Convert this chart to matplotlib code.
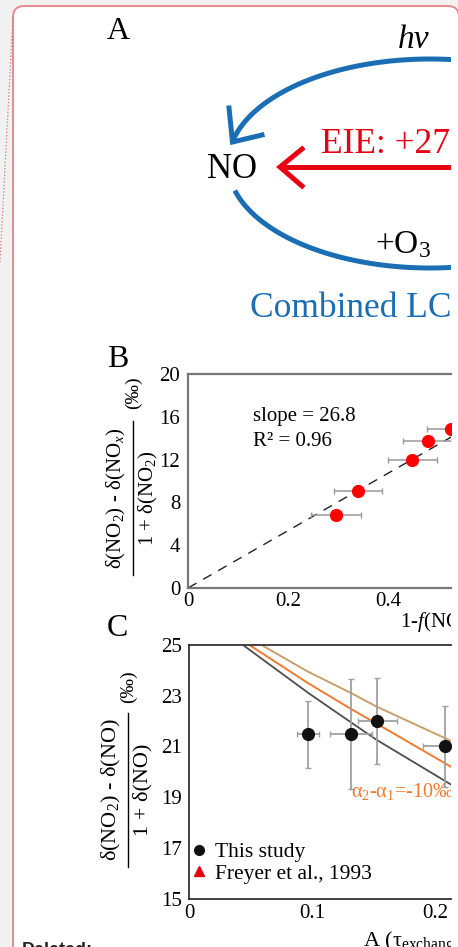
import numpy as np
import matplotlib
matplotlib.use('Agg')
import matplotlib.pyplot as plt
from matplotlib.patches import FancyBboxPatch
from matplotlib.lines import Line2D

plt.rcParams['font.family'] = ['Liberation Serif', 'DejaVu Serif']
plt.rcParams['mathtext.fontset'] = 'custom'
plt.rcParams['mathtext.rm'] = 'Liberation Serif'
plt.rcParams['mathtext.it'] = 'Liberation Serif:italic'
plt.rcParams['mathtext.bf'] = 'Liberation Serif:bold'

# panel B: isotope fractionation vs 1-f
b_x = [0.297, 0.340, 0.449, 0.480, 0.526]
b_y = [6.8, 9.1, 12.0, 13.7, 14.9]
b_xerr = [0.050, 0.049, 0.049, 0.049, 0.047]
b_yerr = [0.4, 0.4, 0.4, 0.4, 0.3]
b_slope = 26.8
b_r2 = 0.96
b_yticks = [0, 4, 8, 12, 16, 20]
b_xticks = [0, 0.2, 0.4]

# panel C: this study points + model curves
c_x = [0.097, 0.132, 0.153, 0.208]
c_y = [21.48, 21.49, 22.0, 21.0]
c_xerr = [0.009, 0.017, 0.016, 0.018]
c_yerr = [1.33, 2.17, 1.70, 1.60]
gray_x = [0.0450, 0.0967, 0.1320, 0.1526, 0.2130]
gray_y = [24.96, 23.12, 21.94, 21.26, 19.50]
orange_x = [0.0504, 0.0967, 0.1320, 0.1526, 0.2130]
orange_y = [24.96, 23.50, 22.47, 21.90, 20.20]
tan_x = [0.0604, 0.0967, 0.1320, 0.1526, 0.2130]
tan_y = [24.96, 23.95, 23.10, 22.57, 21.22]
c_yticks = [15, 17, 19, 21, 23, 25]
c_xticks = [0, 0.1, 0.2]

W, H = 458, 947
BLUE = '#1b6db4'
RED = '#e60012'


def px_rect(left, top, right, bottom):
    return [left / W, 1 - bottom / H, (right - left) / W, (bottom - top) / H]


fig = plt.figure(figsize=(W / 100, H / 100), dpi=100)
fig.patch.set_facecolor('#f1f1f1')

# page background: comment box
bg = fig.add_axes([0, 0, 1, 1], zorder=0)
bg.set_xlim(0, W)
bg.set_ylim(H, 0)
bg.axis('off')
bg.add_patch(FancyBboxPatch((13, 6), 446, 1100, boxstyle='round,pad=0,rounding_size=11',
                            fc='white', ec='#e68a90', lw=1.4))
bg.plot([13, 0], [16, 262], ls=':', color='#d8707a', lw=0.9)
bg.text(22, 954.6, 'Deleted:', family='Liberation Sans', weight='bold', fontsize=13,
        color='#222222', va='baseline')

# content layer (clipped at right side)
ca = fig.add_axes(px_rect(0, 0, 451, H), zorder=1)
ca.set_xlim(0, 451)
ca.set_ylim(H, 0)
ca.axis('off')
ca.patch.set_alpha(0)

# ---- panel A diagram
cx, cy, ea, eb = 430, 163.5, 202, 104.5
t1 = np.radians(np.linspace(168.7, 60, 100))
ca.plot(cx + ea * np.cos(t1), cy - eb * np.sin(t1), color=BLUE, lw=3.6, solid_capstyle='butt')
t2 = np.radians(np.linspace(195, 300, 100))
ca.plot(cx + ea * np.cos(t2), cy - eb * np.sin(t2), color=BLUE, lw=3.6, solid_capstyle='butt')
ca.plot([229, 232.5, 262], [108, 142, 135], color=BLUE, lw=3.6, solid_joinstyle='miter')
ca.plot([281, 460], [167, 167], color=RED, lw=3.6, solid_capstyle='butt')
ca.plot([302, 280, 302], [149, 167, 186], color=RED, lw=3.6, solid_joinstyle='miter')

ca.text(107, 39, 'A', fontsize=23, va='baseline', clip_on=True)
ca.text(398, 48, 'hv', fontsize=24, style='italic', va='baseline', clip_on=True)
ca.text(232, 178, 'NO', fontsize=25, ha='center', va='baseline', clip_on=True)
ca.text(321, 153, 'EIE: +27', fontsize=25.5, color=RED, va='baseline', clip_on=True)
ca.text(375, 253, r'+O$_3$', fontsize=24, va='baseline', clip_on=True)
ca.text(250, 317, 'Combined LCE', fontsize=25.5, color=BLUE, va='baseline', clip_on=True)


def frac_label(x_num, x_bar, x_den, y0, y1, num, den, size):
    yc = (y0 + y1) / 2
    ca.text(x_num, yc, num, rotation=90, ha='center', va='center', fontsize=size, clip_on=True)
    ca.plot([x_bar, x_bar], [y0, y1], color='black', lw=1.0)
    ca.text(x_den, yc, den, rotation=90, ha='center', va='center', fontsize=size, clip_on=True)


# ---- panel B
ca.text(107, 366.5, 'B', fontsize=23, va='baseline', clip_on=True)
axb = fig.add_axes(px_rect(188, 374, 451, 588), zorder=2)
axb.patch.set_alpha(0)
xs = np.array([0, 0.6])
axb.plot(xs, b_slope * xs, color='#222222', lw=1.0, dashes=(7, 5.5))
axb.errorbar(b_x, b_y, xerr=b_xerr, yerr=b_yerr, fmt='o', color='#ff0000', ms=8.5,
             mec='#ff0000', ecolor='#999999', elinewidth=1.1, capsize=2.5, capthick=1.0)
axb.set_xlim(0, 0.526)
axb.set_ylim(0, 20)
axb.set_xticks(b_xticks, ['0', '0.2', '0.4'])
axb.set_yticks(b_yticks)
axb.tick_params(length=0, labelsize=15)
axb.tick_params(axis='y', pad=5.5)
axb.tick_params(axis='x', pad=3)
for s in ['left', 'top', 'bottom']:
    axb.spines[s].set_color('#777777')
    axb.spines[s].set_linewidth(1.6)
axb.spines['right'].set_visible(False)
axb.text(0.13, 16, 'slope = %.1f' % b_slope, fontsize=15, va='center')
axb.text(0.13, 13.7, 'R² = %.2f' % b_r2, fontsize=15, va='center')

frac_label(116, 133, 148, 421, 575, r'δ(NO$_2$) - δ(NO$_x$)', r'1 + δ(NO$_2$)', 15)
ca.text(133, 393, '(‰)', rotation=90, ha='center', va='center', fontsize=14, clip_on=True)
ca.text(400, 622, r'1-$\mathit{f}$(NO$_2$)', fontsize=15, va='center', clip_on=True)

# ---- panel C
ca.text(107, 636, 'C', fontsize=23, va='baseline', clip_on=True)
axc = fig.add_axes(px_rect(189, 645, 451, 898.7), zorder=2)
axc.patch.set_alpha(0)
axc.plot(gray_x, gray_y, color='#4d4d4d', lw=1.3)
axc.plot(orange_x, orange_y, color='#f07a30', lw=1.4)
axc.plot(tan_x, tan_y, color='#c9a06a', lw=1.4)
axc.errorbar(c_x, c_y, xerr=c_xerr, yerr=c_yerr, fmt='o', color='#111111', ms=8.5,
             ecolor='#a0a0a0', elinewidth=1.3, capsize=2, capthick=1.0)
axc.set_xlim(0, 0.213)
axc.set_ylim(15, 25)
axc.set_xticks(c_xticks, ['0', '0.1', '0.2'])
axc.set_yticks(c_yticks)
axc.tick_params(length=0, labelsize=15)
axc.tick_params(axis='y', pad=5)
axc.tick_params(axis='x', pad=4)
for s in ['left', 'top', 'bottom']:
    axc.spines[s].set_color('#333333')
    axc.spines[s].set_linewidth(1.3)
axc.spines['right'].set_visible(False)
axc.text(0.1317, 19.02, r'α$_2$-α$_1$=-10‰', fontsize=14.5,
         color='#f07a30', va='baseline', clip_on=True)
handles = [Line2D([], [], marker='o', ls='', color='#111111', ms=7),
           Line2D([], [], marker='^', ls='', color=RED, ms=7)]
axc.legend(handles, ['This study', 'Freyer et al., 1993'], loc='upper left',
           bbox_to_anchor=(0.005, 0.222), frameon=False, fontsize=15.5, borderpad=0,
           handlelength=0.8, handletextpad=0.35, labelspacing=0.05, borderaxespad=0)

frac_label(111, 128, 143, 713, 867, r'δ(NO$_2$) - δ(NO)', r'1 + δ(NO)', 16)
ca.text(128, 687, '(‰)', rotation=90, ha='center', va='center', fontsize=14, clip_on=True)
ca.text(363, 946.6, r'A (τ$_{\mathrm{exchange}}$/τ$_{\mathrm{NO}}$)', fontsize=16,
        va='baseline', clip_on=True)

fig.savefig('out.png', dpi=100, facecolor=fig.get_facecolor())
